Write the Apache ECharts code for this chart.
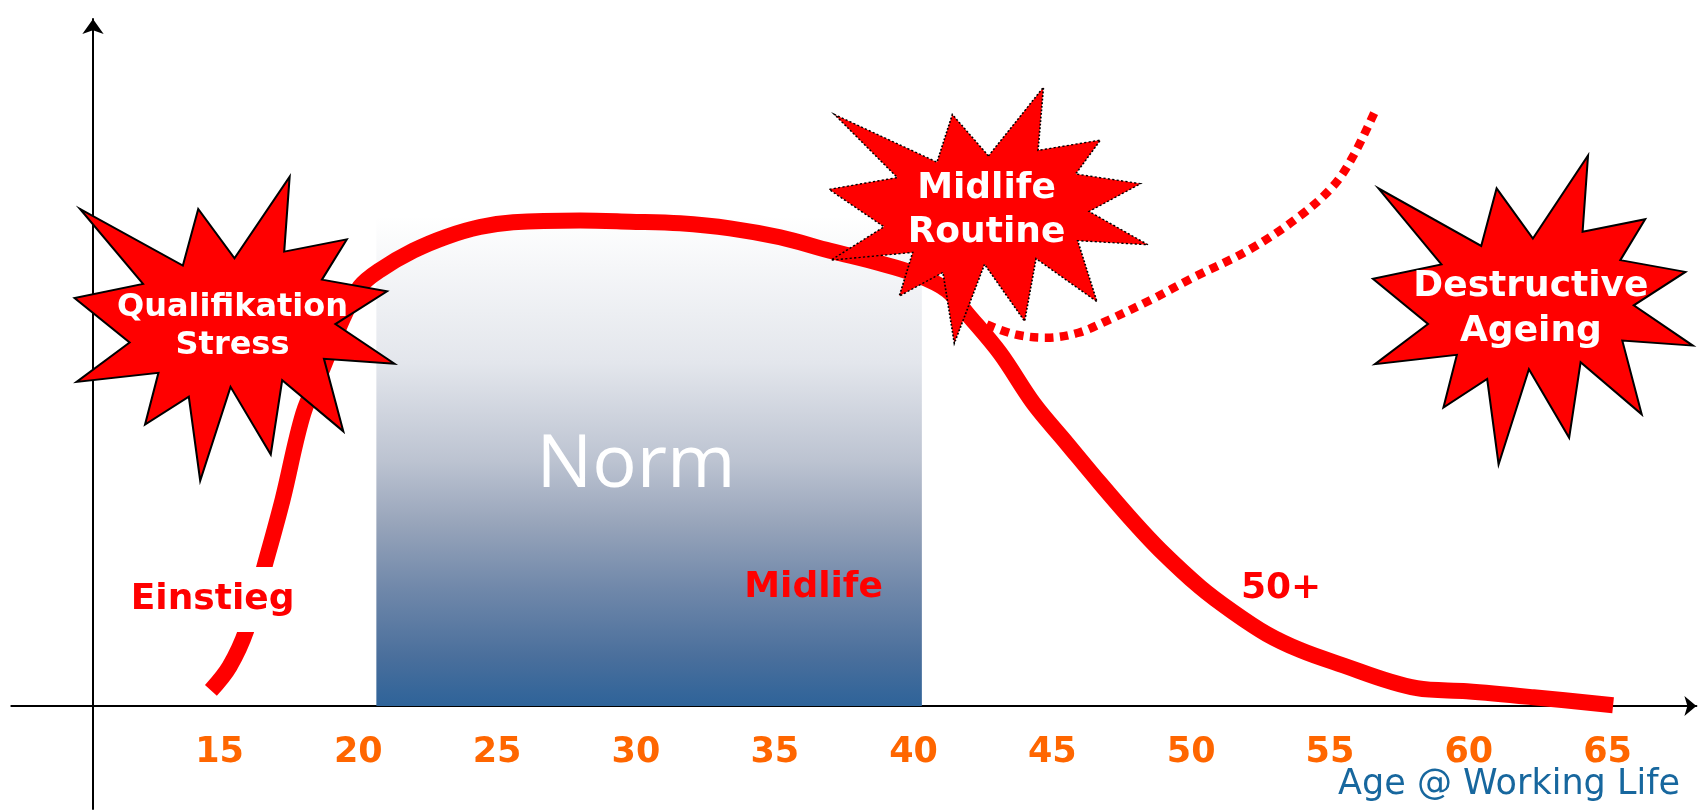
<!DOCTYPE html>
<html>
<head>
<meta charset="utf-8">
<title>Age @ Working Life</title>
<script src="https://cdn.jsdelivr.net/npm/echarts@6/dist/echarts.min.js"></script>
<style>
  html, body { margin: 0; padding: 0; background: #fff; }
  #myChart { width: 1704px; height: 810px; }
</style>
</head>
<body>
<div id="myChart"></div>
<script>
// Hauptkurve: Alter / Niveau
const curveAge = [14.69, 15.36, 15.97, 16.63, 17.27, 18.02, 18.69, 19.45, 20.06, 20.78, 21.98, 23.18,
  24.38, 25.58, 27.99, 29.79, 31.59, 33.39, 35.19, 36.99, 38.79, 39.98, 41.20, 41.92, 43.12, 44.32,
  45.52, 46.72, 47.92, 48.88, 50.32, 51.51, 52.72, 53.92, 55.12, 58.13, 59.93, 62.33, 65.20];
const curveLevel = [2.26, 5.72, 11.06, 20.48, 29.99, 42.61, 48.91, 56.48, 61.03, 63.46, 66.27, 68.31,
  69.72, 70.41, 70.67, 70.50, 70.26, 69.53, 68.22, 66.27, 64.44, 62.98, 60.55, 57.16, 51.34, 44.06,
  38.24, 32.42, 26.83, 22.71, 17.32, 13.68, 10.48, 8.15, 6.40, 2.58, 2.14, 1.27, 0.10];

// gepunkteter Zweig (Midlife Routine)
const branchAge = [42.64, 43.66, 44.80, 45.94, 47.02, 48.58, 50.07, 52.12, 53.92, 55.12, 55.84, 56.63];
const branchLevel = [55.54, 54.08, 53.60, 54.33, 56.17, 59.18, 62.35, 66.47, 71.33, 75.70, 80.07, 86.63];

// Achsenbeschriftung (Alter)
const ageTicks = [15, 20, 25, 30, 35, 40, 45, 50, 55, 60, 65];
const tickLevel = -6.8;

// Norm-Bereich
const normFrom = 20.65;
const normTo = 40.3;
const normTop = 71.3;

// Sterne
const starNames = ['Qualifikation\nStress', 'Midlife\nRoutine', 'Destructive\nAgeing'];
const starAge = [15.54, 42.70, 62.31];
const starLevel = [54.92, 71.43, 57.64];

// Phasen
const phaseNames = ['Einstieg', 'Midlife', '50+'];
const phaseAge = [14.75, 36.40, 53.24];
const phaseLevel = [15.5, 17.18, 17.03];

const normLabel = 'Norm';
const normPos = [30.0, 34.9];
const axisTitle = 'Age @ Working Life';
const axisTitlePos = [67.61, -11.5];

// PowerPoint "Explosion 1"
const seal = 'path://M10800 5800L14522 0L14155 5325L18380 4457L16702 7315L21097 8137L17607 10475' +
  'L21600 13290L16837 12942L18145 18095L14020 14457L13247 19737L10532 14935L8485 21600L7715 15627' +
  'L4762 17617L5667 13937L135 14587L3722 11775L0 8615L4627 7617L370 2295L7312 6320L8352 2295Z';

const starSizes = [[320, 304], [319, 256], [320, 309]];
const starText = [
  { fontSize: 32, lineHeight: 38, offset: [-2, -2] },
  { fontSize: 36, lineHeight: 44, offset: [-2, -5] },
  { fontSize: 36, lineHeight: 45, offset: [-2, -1] },
];
const starBorder = [
  { borderType: 'solid', borderWidth: 2 },
  { borderType: [2, 2], borderWidth: 1.5 },
  { borderType: 'solid', borderWidth: 2 },
];

const zip = (a, b) => a.map((v, i) => [v, b[i]]);

let chart = echarts.init(document.getElementById('myChart'));
let option = {
  animation: false,
  textStyle: { fontFamily: 'DejaVu Sans' },
  grid: {
    left: 11.3,
    right: 7.6,
    top: 19,
    bottom: 1,
    containLabel: false,
    outerBoundsMode: 'none',
  },
  xAxis: {
    type: 'value',
    min: 7.5,
    max: 68.2,
    axisLine: {
      onZero: true,
      symbol: ['none', 'arrow'],
      symbolSize: [15, 12],
      lineStyle: { color: '#000', width: 2 },
    },
    axisTick: { show: false },
    splitLine: { show: false },
    axisLabel: { show: false },
  },
  yAxis: {
    type: 'value',
    min: -15,
    max: 100,
    offset: -81.7,
    axisLine: {
      show: true,
      onZero: false,
      symbol: ['none', 'arrow'],
      symbolSize: [16, 15],
      lineStyle: { color: '#000', width: 2 },
    },
    axisTick: { show: false },
    axisLabel: { show: false },
    splitLine: { show: false },
  },
  series: [
    {
      type: 'line',
      name: 'Verlauf',
      data: zip(curveAge, curveLevel),
      smooth: 0.35,
      showSymbol: false,
      symbol: 'none',
      z: 3,
      lineStyle: { color: '#FF0000', width: 16, cap: 'butt', join: 'round' },
      emphasis: { disabled: true },
      markArea: {
        silent: true,
        itemStyle: {
          opacity: 1,
          color: {
            type: 'linear', x: 0, y: 0, x2: 0, y2: 1,
            colorStops: [
              { offset: 0, color: '#FFFFFF' },
              { offset: 0.3, color: '#E3E6EC' },
              { offset: 0.5, color: '#BCC3D1' },
              { offset: 0.63, color: '#97A4BA' },
              { offset: 0.76, color: '#7088AA' },
              { offset: 0.9, color: '#4A6F9C' },
              { offset: 1, color: '#2E6399' },
            ],
          },
        },
        data: [[{ xAxis: normFrom, yAxis: 0 }, { xAxis: normTo, yAxis: normTop }]],
      },
    },
    {
      type: 'line',
      name: 'Routine',
      data: zip(branchAge, branchLevel),
      smooth: 0.35,
      showSymbol: false,
      symbol: 'none',
      z: 3,
      lineStyle: { color: '#FF0000', width: 8.5, type: [8.5, 6.5], cap: 'butt' },
      emphasis: { disabled: true },
    },
    {
      type: 'scatter',
      name: 'Sterne',
      symbol: seal,
      clip: false,
      z: 6,
      silent: true,
      data: starNames.map((n, i) => ({
        name: n,
        value: [starAge[i], starLevel[i]],
        symbolSize: starSizes[i],
        itemStyle: starBorder[i],
        label: starText[i],
      })),
      itemStyle: { color: '#FF0000', borderColor: '#000', opacity: 1 },
      label: {
        show: true,
        position: 'inside',
        formatter: '{b}',
        color: '#FFFFFF',
        fontWeight: 'bold',
        align: 'center',
      },
      emphasis: { disabled: true },
    },
    {
      type: 'scatter',
      name: 'Phasen',
      symbolSize: 0,
      clip: false,
      z: 8,
      silent: true,
      itemStyle: { opacity: 1 },
      data: phaseNames.map((n, i) => ({
        name: n,
        value: [phaseAge[i], phaseLevel[i]],
        label: i === 0 ? { backgroundColor: '#FFFFFF', padding: [16, 8, 13, 8] } : {},
      })),
      label: {
        show: true,
        position: 'inside',
        formatter: '{b}',
        color: '#FF0000',
        fontWeight: 'bold',
        fontSize: 36,
        lineHeight: 36,
      },
      emphasis: { disabled: true },
    },
    {
      type: 'scatter',
      name: 'Alter',
      symbolSize: 0,
      clip: false,
      z: 8,
      silent: true,
      itemStyle: { opacity: 1 },
      data: ageTicks.map((a) => ({ name: String(a), value: [a, tickLevel] })),
      label: {
        show: true,
        position: 'inside',
        formatter: '{b}',
        color: '#FF6600',
        fontWeight: 'bold',
        fontSize: 35,
      },
      emphasis: { disabled: true },
    },
    {
      type: 'scatter',
      name: 'Texte',
      symbolSize: 0,
      clip: false,
      z: 8,
      silent: true,
      itemStyle: { opacity: 1 },
      data: [
        {
          name: normLabel,
          value: normPos,
          label: { color: '#FFFFFF', fontSize: 74, fontFamily: 'Open Sans', fontWeight: 'normal' },
        },
        {
          name: axisTitle,
          value: axisTitlePos,
          label: { color: '#17679E', fontSize: 35, align: 'right', position: 'left', distance: 0 },
        },
      ],
      label: { show: true, position: 'inside', formatter: '{b}' },
      emphasis: { disabled: true },
    },
  ],
};
chart.setOption(option);
</script>
</body>
</html>
